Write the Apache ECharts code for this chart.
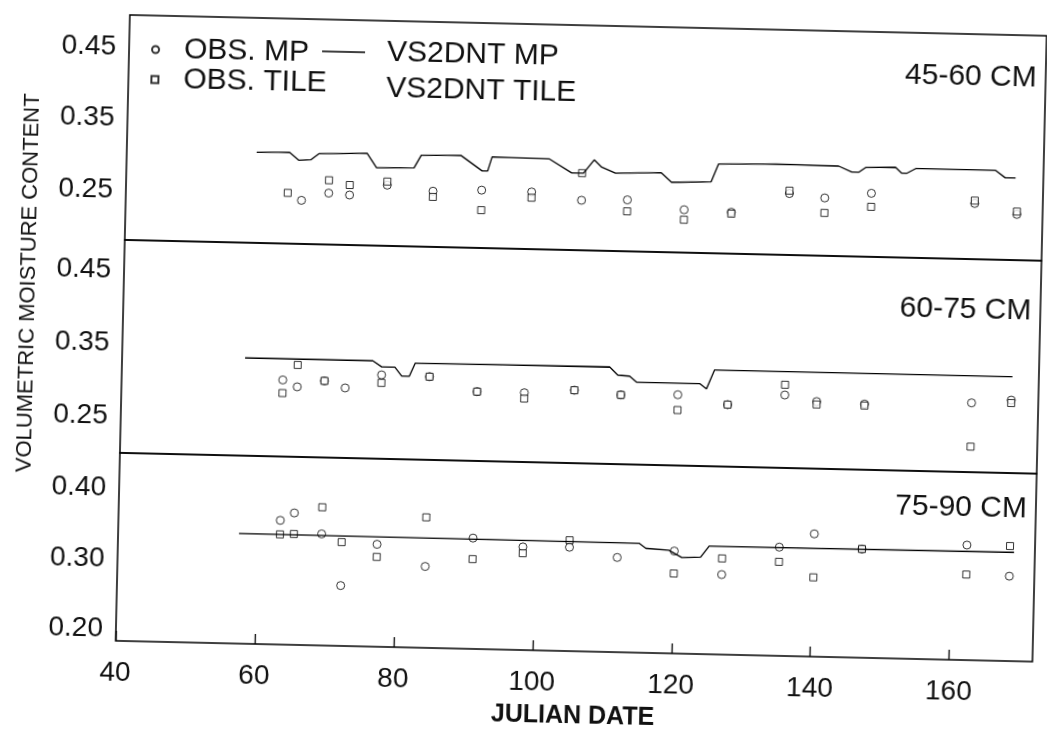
<!DOCTYPE html>
<html>
<head>
<meta charset="utf-8">
<script src="https://cdn.jsdelivr.net/npm/echarts@6/dist/echarts.min.js"></script>
<style>
  html, body { margin: 0; padding: 0; background: #fff; overflow: hidden; }
  /* the scanned figure sits slightly tilted */
  #chart { width: 1047px; height: 732px; transform: rotate(1.3deg); transform-origin: 50% 50%; }
</style>
</head>
<body>
<div id="chart"></div>
<script>
// ====== data: [julian day, volumetric moisture] ======
const obsMp45 = [[65.3,0.241],[69.2,0.252],[72.2,0.250],[77.6,0.265],[84.2,0.258],[91.2,0.261],[98.4,0.260],[105.6,0.250],[112.2,0.252],[120.4,0.240],[127.2,0.238],[135.5,0.266],[140.6,0.261],[147.3,0.269],[162.2,0.258],[168.3,0.244]];
const obsTile45 = [[63.3,0.251],[69.2,0.270],[72.2,0.264],[77.6,0.270],[84.2,0.250],[91.2,0.233],[98.4,0.252],[105.6,0.288],[112.2,0.236],[120.4,0.226],[127.2,0.236],[135.5,0.270],[140.6,0.240],[147.3,0.250],[162.2,0.262],[168.3,0.248]];
const modelMp45 = [[58.7,0.307],[63.4,0.308],[64.8,0.297],[66.5,0.298],[67.7,0.307],[74.6,0.309],[76.0,0.289],[81.4,0.290],[82.4,0.308],[88.1,0.309],[91.2,0.288],[92.0,0.288],[92.6,0.308],[100.8,0.307],[104.1,0.288],[105.8,0.288],[107.3,0.307],[108.4,0.297],[110.4,0.289],[117.0,0.291],[118.5,0.278],[124.2,0.280],[125.2,0.305],[133.5,0.307],[142.5,0.306],[144.4,0.298],[145.4,0.298],[146.4,0.305],[150.7,0.306],[151.6,0.298],[152.3,0.298],[153.6,0.305],[165.1,0.305],[166.5,0.295],[168.0,0.295]];

const obsMp60 = [[63.2,0.305],[65.3,0.296],[69.2,0.305],[72.2,0.296],[77.4,0.315],[84.3,0.314],[91.2,0.295],[98.0,0.295],[105.2,0.300],[111.9,0.295],[120.1,0.297],[127.3,0.285],[135.5,0.300],[140.1,0.292],[147.0,0.290],[162.4,0.295],[168.1,0.300]];
const obsTile60 = [[63.2,0.287],[65.3,0.326],[69.2,0.305],[77.4,0.304],[84.3,0.314],[91.2,0.295],[98.0,0.287],[105.2,0.300],[111.9,0.295],[120.1,0.276],[127.3,0.285],[135.5,0.314],[140.1,0.288],[147.0,0.288],[162.4,0.235],[168.1,0.296]];
const modelMp60 = [[57.7,0.334],[76.1,0.334],[77.4,0.326],[79.3,0.326],[80.3,0.314],[81.4,0.314],[82.2,0.332],[110.2,0.333],[111.4,0.322],[113.1,0.321],[114.1,0.313],[123.2,0.313],[124.2,0.306],[125.3,0.332],[168.2,0.332]];

const obsMp75 = [[63.3,0.360],[65.3,0.371],[69.3,0.342],[72.2,0.269],[77.3,0.329],[84.3,0.299],[91.1,0.341],[98.3,0.330],[105.0,0.331],[111.9,0.318],[120.1,0.329],[127.0,0.297],[135.2,0.338],[140.2,0.358],[147.1,0.338],[162.2,0.347],[168.4,0.304]];
const obsTile75 = [[63.3,0.340],[65.3,0.341],[69.3,0.380],[72.2,0.331],[77.3,0.311],[84.3,0.369],[91.1,0.311],[98.3,0.321],[105.0,0.341],[120.1,0.297],[127.0,0.320],[135.2,0.317],[140.2,0.296],[147.1,0.338],[162.2,0.305],[168.4,0.347]];
const modelMp75 = [[57.4,0.340],[115.0,0.339],[116.0,0.332],[119.3,0.330],[121.2,0.320],[123.9,0.321],[125.1,0.337],[169.0,0.338]];

const panelNames = ["45-60 CM", "60-75 CM", "75-90 CM"];
const yTicks = [[0.25, 0.35, 0.45], [0.25, 0.35, 0.45], [0.20, 0.30, 0.40]];
const xTicks = [40, 60, 80, 100, 120, 140, 160];

// ====== layout ======
const FONT = "Liberation Sans";
const ink = "#111";
const panels = [
  { top: 24,  height: 225, min: 0.18,  max: 0.495 },
  { top: 249, height: 213, min: 0.20,  max: 0.492 },
  { top: 462, height: 188, min: 0.183, max: 0.451 }
];

const chart = echarts.init(document.getElementById("chart"));

const grid = panels.map(p => ({
  left: 122, right: 8, top: p.top, height: p.height,
  show: true, borderColor: "#000", borderWidth: 1.5, backgroundColor: "transparent"
}));

const xAxis = panels.map((p, i) => {
  const last = i === panels.length - 1;
  return {
    type: "value", gridIndex: i, min: 40, max: 172, interval: 20,
    splitLine: { show: false },
    axisLine: { show: false },
    axisTick: { show: last, inside: true, length: 10, lineStyle: { color: "#000", width: 1.3 }, customValues: xTicks },
    axisLabel: { show: last, customValues: xTicks, margin: 18, color: ink, fontFamily: FONT, fontSize: 28 },
    name: last ? "JULIAN DATE" : "",
    nameLocation: "middle", nameGap: 53,
    nameTextStyle: { color: ink, fontFamily: FONT, fontSize: 25, fontWeight: "bold" }
  };
});

const yAxis = panels.map((p, i) => ({
  type: "value", gridIndex: i, min: p.min, max: p.max,
  splitLine: { show: false },
  axisLine: { show: false },
  axisTick: { show: false },
  axisLabel: {
    customValues: yTicks[i], margin: 13, color: ink, fontFamily: FONT, fontSize: 28,
    formatter: v => v.toFixed(2)
  }
}));

function obs(name, data, gi, symbol) {
  return {
    name, type: "scatter", xAxisIndex: gi, yAxisIndex: gi, data,
    symbol, symbolSize: symbol === "rect" ? 7 : 8,
    itemStyle: { color: "#fff", borderColor: "#000", borderWidth: 1 }
  };
}
function model(name, data, gi) {
  return {
    name, type: "line", xAxisIndex: gi, yAxisIndex: gi, data,
    showSymbol: false, symbol: "none", color: "#000",
    lineStyle: { color: "#000", width: 1.3 }
  };
}

const series = [
  obs("OBS. MP", obsMp45, 0, "circle"), obs("OBS. TILE", obsTile45, 0, "rect"), model("VS2DNT MP", modelMp45, 0),
  obs("OBS. MP", obsMp60, 1, "circle"), obs("OBS. TILE", obsTile60, 1, "rect"), model("VS2DNT MP", modelMp60, 1),
  obs("OBS. MP", obsMp75, 2, "circle"), obs("OBS. TILE", obsTile75, 2, "rect"), model("VS2DNT MP", modelMp75, 2),
  // the tile simulation line did not survive in the scan
  model("VS2DNT TILE", [], 0)
];

const legendText = { color: ink, fontFamily: FONT, fontSize: 30, lineHeight: 30 };

const option = {
  backgroundColor: "#fff",
  animation: false,
  grid, xAxis, yAxis, series,
  legend: [
    {
      left: 139, top: 38, orient: "vertical", selectedMode: false,
      itemWidth: 7, itemHeight: 7, itemGap: 0,
      textStyle: Object.assign({ padding: [0, 0, 0, 20] }, legendText),
      data: [{ name: "OBS. MP", icon: "circle" }, { name: "OBS. TILE", icon: "rect" }]
    },
    {
      left: 310, top: 36, orient: "vertical", selectedMode: false,
      itemWidth: 43, itemHeight: 1.5, itemGap: 6,
      textStyle: Object.assign({ padding: [0, 0, 0, 17] }, legendText),
      data: [{ name: "VS2DNT MP", icon: "rect" }, { name: "VS2DNT TILE", icon: "none" }]
    }
  ],
  graphic: [
    {
      type: "text", x: 27, y: 294, rotation: Math.PI / 2,
      style: { text: "VOLUMETRIC MOISTURE CONTENT", fill: ink, font: `22px "${FONT}"`, align: "center", verticalAlign: "middle" }
    },
    ...panelNames.map((t, i) => ({
      type: "text", x: 1030, y: [67, 300, 498][i],
      style: { text: t, fill: ink, font: `30px "${FONT}"`, align: "right", verticalAlign: "middle" }
    }))
  ]
};

chart.setOption(option);
window.addEventListener("resize", () => chart.resize());
</script>
</body>
</html>
